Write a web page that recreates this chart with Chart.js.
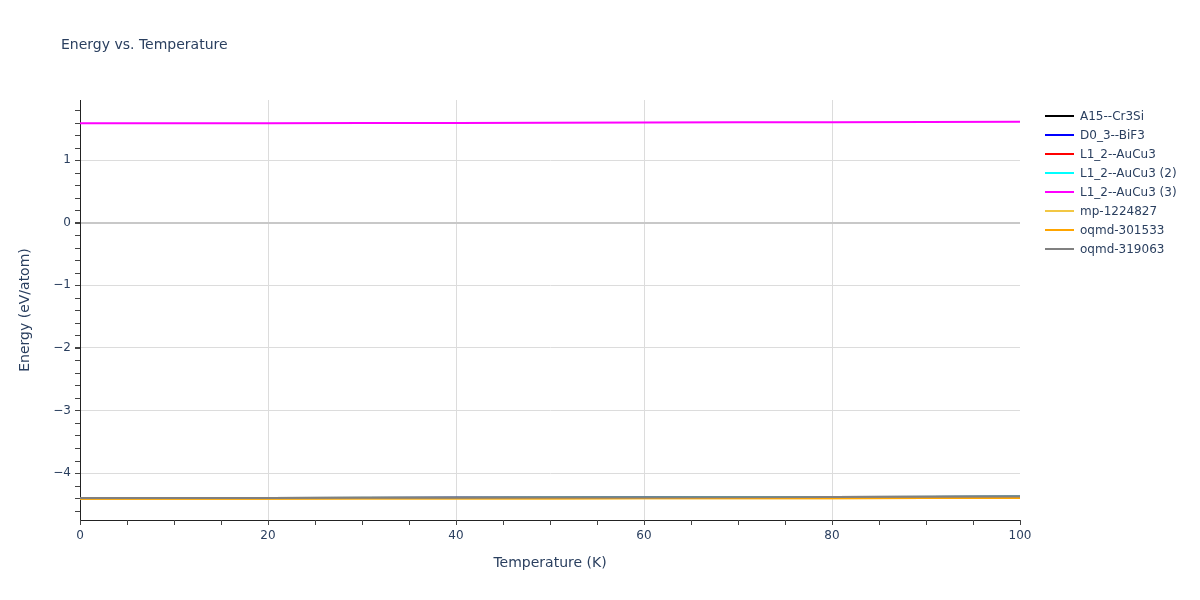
<!DOCTYPE html>
<html>
<head>
<meta charset="utf-8">
<script src="https://cdn.jsdelivr.net/npm/chart.js@4.4.0/dist/chart.umd.min.js"></script>
<style>
  body { margin: 0; background: #fff; font-family: "DejaVu Sans", sans-serif; }
  #wrap { position: relative; width: 1200px; height: 600px; }
  #title { position: absolute; left: 61px; top: 36px; font-size: 14px; color: #2a3f5f; }
  #legend { position: absolute; left: 1045px; top: 106px; font-size: 12px; color: #2a3f5f; }
  .item { height: 19px; display: flex; align-items: center; }
  .swatch { width: 29px; height: 2px; margin-right: 6px; }
</style>
</head>
<body>
<div id="wrap">
  <canvas id="myChart" width="1200" height="600"></canvas>
  <div id="title">Energy vs. Temperature</div>
  <div id="legend"></div>
</div>
<script>
var temps = [0, 10, 20, 30, 40, 50, 60, 70, 80, 90, 100];

var names = ['A15--Cr3Si', 'D0_3--BiF3', 'L1_2--AuCu3', 'L1_2--AuCu3 (2)', 'L1_2--AuCu3 (3)',
             'mp-1224827', 'oqmd-301533', 'oqmd-319063'];
var colors = ['#000000', '#0000ff', '#ff0000', '#00ffff', '#ff00ff', '#f2c744', '#ffa500', '#808080'];

var a15 = [-4.401, -4.400, -4.399, -4.397, -4.395, -4.393, -4.391, -4.388, -4.385, -4.382, -4.379];
var d03 = [-4.401, -4.400, -4.399, -4.397, -4.395, -4.393, -4.391, -4.388, -4.385, -4.382, -4.379];
var l12 = [-4.400, -4.399, -4.398, -4.396, -4.394, -4.392, -4.389, -4.386, -4.383, -4.380, -4.376];
var l12b = [-4.400, -4.399, -4.398, -4.396, -4.394, -4.392, -4.389, -4.386, -4.383, -4.380, -4.376];
var l12c = [1.588, 1.589, 1.590, 1.592, 1.594, 1.597, 1.600, 1.603, 1.606, 1.610, 1.614];
var mp = [-4.410, -4.410, -4.409, -4.408, -4.407, -4.406, -4.404, -4.403, -4.401, -4.399, -4.397];
var oqmd1 = [-4.410, -4.410, -4.409, -4.408, -4.407, -4.406, -4.404, -4.403, -4.401, -4.400, -4.398];
var oqmd2 = [-4.400, -4.399, -4.398, -4.396, -4.394, -4.391, -4.389, -4.386, -4.382, -4.378, -4.374];
var series = [a15, d03, l12, l12b, l12c, mp, oqmd1, oqmd2];

var fontColor = '#2a3f5f';
var fam = 'DejaVu Sans';

// html legend
var leg = document.getElementById('legend');
names.forEach(function(n, i) {
    var row = document.createElement('div');
    row.className = 'item';
    row.innerHTML = '<div class="swatch" style="background:' + colors[i] + '"></div><span>' + n + '</span>';
    leg.appendChild(row);
});

var datasets = series.map(function(s, i) {
    return {
        label: names[i],
        data: temps.map(function(t, j) { return { x: t, y: s[j] }; }),
        borderColor: colors[i],
        backgroundColor: colors[i],
        borderWidth: 2,
        pointRadius: 0,
        tension: 0,
        order: series.length - i
    };
});

// minor ticks like plotly
var minorTicks = {
    id: 'minorTicks',
    afterDraw: function(chart) {
        var ctx = chart.ctx;
        var xs = chart.scales.x, ys = chart.scales.y;
        var area = chart.chartArea;
        ctx.save();
        ctx.strokeStyle = '#444';
        ctx.lineWidth = 1;
        ctx.beginPath();
        for (var v = 0; v <= 100; v += 5) {
            var px = Math.round(xs.getPixelForValue(v)) + 0.5;
            ctx.moveTo(px, area.bottom);
            ctx.lineTo(px, area.bottom + 5);
        }
        for (var k = -23; k <= 9; k++) {
            var py = Math.round(ys.getPixelForValue(k * 0.2)) + 0.5;
            ctx.moveTo(area.left, py);
            ctx.lineTo(area.left - 5, py);
        }
        ctx.stroke();
        ctx.restore();
    }
};

const ctx = document.getElementById('myChart').getContext('2d');
const myChart = new Chart(ctx, {
    type: 'line',
    data: { datasets: datasets },
    options: {
        responsive: false,
        animation: false,
        layout: { padding: { left: 0, right: 180, top: 100, bottom: 0 } },
        plugins: { legend: { display: false }, tooltip: { enabled: false } },
        scales: {
            x: {
                type: 'linear',
                min: 0, max: 100,
                ticks: { stepSize: 20, color: fontColor, font: { family: fam, size: 12 }, padding: 4, maxRotation: 0 },
                grid: {
                    color: function(c) { return (c.tick && (c.tick.value === 0 || c.tick.value === 100)) ? 'rgba(0,0,0,0)' : '#dcdcdc'; },
                    tickLength: 5, tickColor: '#444'
                },
                border: { color: '#222', width: 1 },
                title: { display: true, text: 'Temperature (K)', color: fontColor,
                         font: { family: fam, size: 14 }, padding: { top: 0, bottom: 28 } },
                afterFit: function(scale) { scale.height = 80; }
            },
            y: {
                min: -4.75, max: 1.96,
                afterBuildTicks: function(scale) {
                    scale.ticks = [-4, -3, -2, -1, 0, 1].map(function(v) { return { value: v }; });
                },
                ticks: {
                    color: fontColor, font: { family: fam, size: 12 }, padding: 4,
                    callback: function(v) { return String(v).replace('-', '\u2212'); }
                },
                grid: {
                    color: function(c) { return (c.tick && c.tick.value === 0) ? '#c8c8c8' : '#dcdcdc'; },
                    lineWidth: function(c) { return (c.tick && c.tick.value === 0) ? 2 : 1; },
                    tickLength: 5, tickColor: '#444'
                },
                border: { color: '#222', width: 1 },
                title: { display: true, text: 'Energy (eV/atom)', color: fontColor,
                         font: { family: fam, size: 14 }, padding: { top: 17, bottom: 0 } },
                afterFit: function(scale) { scale.width = 80; }
            }
        }
    },
    plugins: [minorTicks]
});
</script>
</body>
</html>
